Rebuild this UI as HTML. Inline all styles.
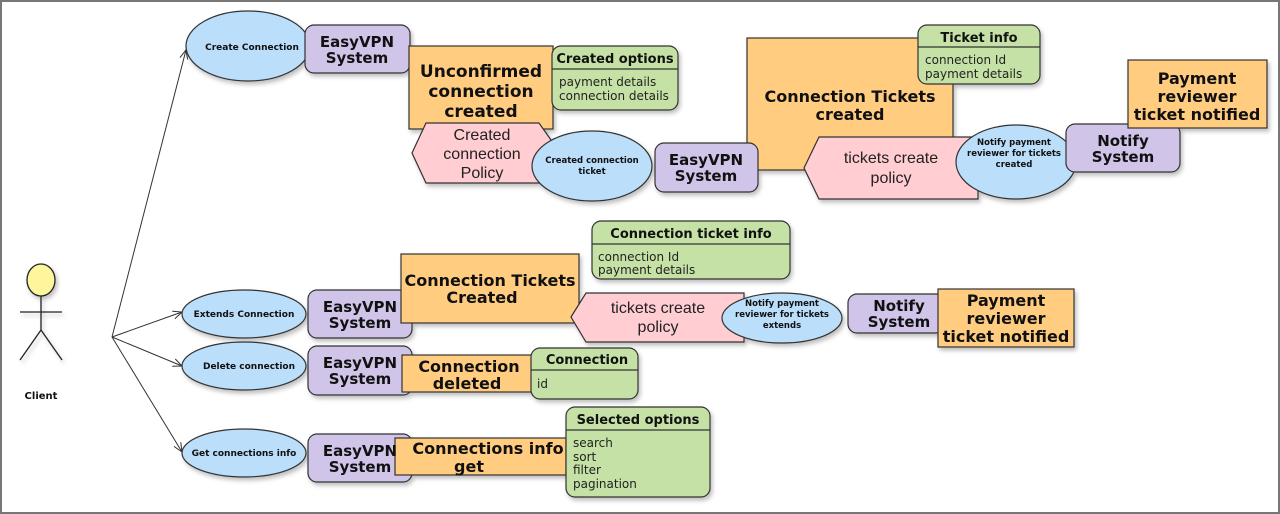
<!DOCTYPE html>
<html><head><meta charset="utf-8"><style>
html,body{margin:0;padding:0;background:#fff}
svg{display:block}
.b{font-family:"DejaVu Sans","Liberation Sans",sans-serif;font-weight:bold;fill:#111}
.n{font-family:"DejaVu Sans","Liberation Sans",sans-serif;fill:#222}
.p{font-family:"Liberation Sans",sans-serif;fill:#222}
.el{fill:#bbdefb;stroke:#333;stroke-width:1.2}
.sy{fill:#d1c4e9;stroke:#333;stroke-width:1.2}
.or{fill:#ffcc80;stroke:#333;stroke-width:1.2}
.gr{fill:#c5e1a5;stroke:#333;stroke-width:1.2}
.pk{fill:#ffcdd2;stroke:#333;stroke-width:1.2}
</style></head><body>
<svg width="1280" height="514" viewBox="0 0 1280 514" xmlns="http://www.w3.org/2000/svg">
<defs>
<filter id="s" x="-10%" y="-10%" width="130%" height="140%"><feDropShadow dx="2" dy="3" stdDeviation="2" flood-color="#000" flood-opacity="0.25"/></filter>
<marker id="a" markerWidth="10" markerHeight="10" refX="9" refY="5" orient="auto" markerUnits="userSpaceOnUse"><path d="M0,1 L9,5 L0,9" fill="none" stroke="#333" stroke-width="1"/></marker>
</defs>
<rect x="1" y="1" width="1278" height="512" fill="#fff" stroke="#777" stroke-width="2"/>

<!-- actor -->
<g filter="url(#s)" stroke="#222" stroke-width="1.3" fill="none">
<ellipse cx="41" cy="280" rx="14" ry="16" fill="#fff59d"/>
<line x1="41" y1="296" x2="41" y2="330"/>
<line x1="20" y1="312" x2="62" y2="312"/>
<line x1="41" y1="330" x2="20" y2="360"/>
<line x1="41" y1="330" x2="62" y2="360"/>
</g>
<text class="b" x="41" y="399" font-size="10" text-anchor="middle">Client</text>

<!-- connectors -->
<g stroke="#333" stroke-width="1" marker-end="url(#a)">
<line x1="112" y1="337" x2="186" y2="50"/>
<line x1="112" y1="337" x2="182" y2="312"/>
<line x1="112" y1="337" x2="182" y2="366"/>
<line x1="112" y1="337" x2="182" y2="452"/>
</g>

<g filter="url(#s)">
<!-- top row -->
<ellipse class="el" cx="248" cy="46" rx="62" ry="35"/>
<rect class="sy" x="305" y="25" width="105" height="48" rx="9"/>
<rect class="or" x="409" y="46" width="144" height="83"/>
<rect class="gr" x="552" y="46" width="126" height="64" rx="9"/>
<polygon class="pk" points="412,153 426,123 539,123 551,140 551,183 426,183"/>
<ellipse class="el" cx="592" cy="166" rx="60" ry="35"/>
<rect class="or" x="747" y="38" width="206" height="132"/>
<rect class="sy" x="655" y="143" width="103" height="49" rx="9"/>
<rect class="gr" x="918" y="25" width="122" height="59" rx="9"/>
<polygon class="pk" points="804,168 819,137 978,137 978,199 819,199"/>
<ellipse class="el" cx="1016" cy="162" rx="60" ry="37"/>
<rect class="sy" x="1066" y="124" width="114" height="48" rx="9"/>
<rect class="or" x="1128" y="60" width="139" height="68"/>

<!-- extends row -->
<ellipse class="el" cx="244" cy="314" rx="62" ry="24"/>
<rect class="sy" x="308" y="290" width="104" height="48" rx="9"/>
<rect class="or" x="401" y="254" width="178" height="69"/>
<rect class="gr" x="592" y="221" width="198" height="58" rx="9"/>
<polygon class="pk" points="571,317 586,293 744,293 744,342 586,342"/>
<ellipse class="el" cx="782" cy="318" rx="60" ry="25"/>
<rect class="sy" x="848" y="294" width="97" height="39" rx="9"/>
<rect class="or" x="938" y="289" width="136" height="58"/>

<!-- delete row -->
<ellipse class="el" cx="244" cy="366" rx="62" ry="24"/>
<rect class="sy" x="308" y="346" width="104" height="49" rx="9"/>
<rect class="or" x="402" y="355" width="135" height="37"/>
<rect class="gr" x="531" y="348" width="107" height="51" rx="9"/>

<!-- get row -->
<ellipse class="el" cx="244" cy="453" rx="62" ry="24"/>
<rect class="sy" x="308" y="434" width="104" height="48" rx="9"/>
<rect class="or" x="395" y="438" width="171" height="37"/>
<rect class="gr" x="566" y="407" width="144" height="90" rx="9"/>
</g>

<!-- entity header lines -->
<g stroke="#333" stroke-width="1.2">
<line x1="552" y1="69" x2="678" y2="69"/>
<line x1="918" y1="47" x2="1040" y2="47"/>
<line x1="592" y1="244" x2="790" y2="244"/>
<line x1="531" y1="370" x2="638" y2="370"/>
<line x1="566" y1="430" x2="710" y2="430"/>
</g>

<!-- texts -->
<g text-anchor="middle">
<text class="b" x="252" y="50" font-size="9">Create Connection</text>
<text class="b" x="357" y="47" font-size="15">EasyVPN</text>
<text class="b" x="357" y="63" font-size="15">System</text>
<text class="b" x="481" y="77" font-size="17">Unconfirmed</text>
<text class="b" x="481" y="97" font-size="17">connection</text>
<text class="b" x="481" y="117" font-size="17">created</text>
<text class="b" x="615" y="63" font-size="13">Created options</text>
<text class="p" x="482" y="140" font-size="16">Created</text>
<text class="p" x="482" y="159" font-size="16">connection</text>
<text class="p" x="482" y="178" font-size="16">Policy</text>
<text class="b" x="592" y="163" font-size="8.5">Created connection</text>
<text class="b" x="592" y="174" font-size="8.5">ticket</text>
<text class="b" x="706" y="165" font-size="15">EasyVPN</text>
<text class="b" x="706" y="181" font-size="15">System</text>
<text class="b" x="850" y="102" font-size="16">Connection Tickets</text>
<text class="b" x="850" y="120" font-size="16">created</text>
<text class="b" x="979" y="42" font-size="13">Ticket info</text>
<text class="p" x="891" y="163" font-size="16">tickets create</text>
<text class="p" x="891" y="183" font-size="16">policy</text>
<text class="b" x="1014" y="145" font-size="8.5">Notify payment</text>
<text class="b" x="1014" y="156" font-size="8.5">reviewer for tickets</text>
<text class="b" x="1014" y="167" font-size="8.5">created</text>
<text class="b" x="1123" y="146" font-size="15">Notify</text>
<text class="b" x="1123" y="162" font-size="15">System</text>
<text class="b" x="1197" y="84" font-size="16">Payment</text>
<text class="b" x="1197" y="102" font-size="16">reviewer</text>
<text class="b" x="1197" y="120" font-size="16">ticket notified</text>

<text class="b" x="244" y="317" font-size="9">Extends Connection</text>
<text class="b" x="360" y="312" font-size="15">EasyVPN</text>
<text class="b" x="360" y="328" font-size="15">System</text>
<text class="b" x="490" y="286" font-size="16">Connection Tickets</text>
<text class="b" x="482" y="303" font-size="16">Created</text>
<text class="b" x="691" y="238" font-size="13">Connection ticket info</text>
<text class="p" x="658" y="313" font-size="16">tickets create</text>
<text class="p" x="658" y="332" font-size="16">policy</text>
<text class="b" x="782" y="306" font-size="8.5">Notify payment</text>
<text class="b" x="782" y="317" font-size="8.5">reviewer for tickets</text>
<text class="b" x="782" y="328" font-size="8.5">extends</text>
<text class="b" x="899" y="311" font-size="15">Notify</text>
<text class="b" x="899" y="327" font-size="15">System</text>
<text class="b" x="1006" y="306" font-size="16">Payment</text>
<text class="b" x="1006" y="324" font-size="16">reviewer</text>
<text class="b" x="1006" y="342" font-size="16">ticket notified</text>

<text class="b" x="249" y="369" font-size="9">Delete connection</text>
<text class="b" x="360" y="368" font-size="15">EasyVPN</text>
<text class="b" x="360" y="384" font-size="15">System</text>
<text class="b" x="469" y="372" font-size="16">Connection</text>
<text class="b" x="467" y="389" font-size="16">deleted</text>
<text class="b" x="587" y="364" font-size="13">Connection</text>

<text class="b" x="244" y="456" font-size="9">Get connections info</text>
<text class="b" x="360" y="456" font-size="15">EasyVPN</text>
<text class="b" x="360" y="472" font-size="15">System</text>
<text class="b" x="488" y="454" font-size="16">Connections info</text>
<text class="b" x="469" y="472" font-size="16">get</text>
<text class="b" x="638" y="424" font-size="13">Selected options</text>
</g>

<g class="n" font-size="12">
<text x="559" y="86">payment details</text>
<text x="559" y="100">connection details</text>
<text x="925" y="64">connection Id</text>
<text x="925" y="78">payment details</text>
<text x="598" y="261">connection Id</text>
<text x="598" y="274">payment details</text>
<text x="537" y="388">id</text>
<text x="573" y="447">search</text>
<text x="573" y="461">sort</text>
<text x="573" y="474">filter</text>
<text x="573" y="488">pagination</text>
</g>
</svg>
</body></html>
